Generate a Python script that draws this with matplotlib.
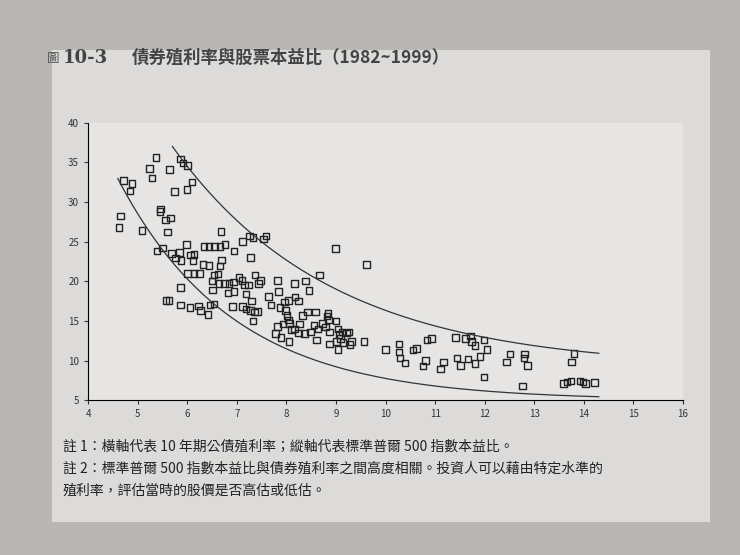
import matplotlib
matplotlib.use("Agg")
import matplotlib.pyplot as plt
import numpy as np
from matplotlib.patches import Rectangle

plt.rcParams['font.family'] = ['Noto Sans CJK TC', 'DejaVu Sans']

x_yield = [4.71,4.89,4.85,4.65,4.62,5.09,5.37,5.24,5.29,5.64,5.86,5.91,6.01,6.1,6.0,5.74,5.46,5.45,5.66,5.56,5.6,
 6.68,7.11,7.26,7.33,7.54,7.59,8.99,9.62,
 5.39,5.5,5.68,5.76,5.84,5.87,5.99,6.07,6.14,6.12,
 6.34,6.44,6.55,6.66,6.76,6.94,7.28,6.69,6.32,6.44,6.66,6.54,6.62,6.01,6.14,6.25,6.5,6.51,6.64,6.75,6.84,6.82,6.93,6.94,7.04,7.1,7.16,7.19,7.24,7.37,7.44,7.48,7.82,7.84,7.64,7.69,8.16,8.39,8.46,8.67,
 5.86,5.57,5.63,5.86,6.06,6.23,6.27,6.42,6.46,6.54,6.91,7.11,7.19,7.3,7.28,7.36,7.42,7.33,
 7.87,7.96,8.04,8.17,8.24,7.98,8.01,8.32,8.43,8.59,8.84,8.82,8.85,9.0,7.82,7.78,7.89,7.93,8.06,8.04,8.05,8.16,8.26,8.1,8.24,8.37,8.49,8.56,8.64,8.61,8.73,8.79,8.87,9.04,9.06,9.12,9.21,9.26,9.09,9.01,9.14,9.31,9.28,9.04,8.87,9.57,
 10.0,10.27,10.27,10.29,10.39,10.55,10.62,10.84,10.93,10.81,10.76,11.17,11.11,11.41,11.61,11.71,11.73,11.8,11.99,12.05,11.44,11.51,11.66,11.8,11.91,11.99,12.44,12.51,12.8,12.79,12.86,12.76,13.8,13.75,13.59,13.66,13.74,13.92,13.98,14.03,14.21]
y_pe = [32.7,32.3,31.4,28.2,26.8,26.4,35.6,34.2,33.0,34.1,35.4,34.9,34.6,32.5,31.6,31.3,29.1,28.8,28.0,27.7,26.2,
 26.3,25.0,25.7,25.5,25.3,25.7,24.1,22.1,
 23.8,24.2,23.5,22.9,23.6,22.6,24.6,23.3,23.4,22.6,
 24.4,24.4,24.4,24.4,24.6,23.8,23.0,22.7,22.1,22.0,21.9,20.8,20.9,21.0,21.0,21.0,20.0,18.9,19.7,19.7,19.7,18.5,19.9,18.7,20.5,20.1,19.5,18.4,19.5,20.8,19.7,20.1,20.1,18.7,18.1,17.0,19.7,20.0,18.8,20.8,
 19.2,17.6,17.6,17.0,16.7,16.9,16.3,15.8,17.0,17.1,16.8,16.8,16.5,17.5,16.3,16.1,16.2,15.0,
 16.7,17.4,17.6,18.0,17.5,16.3,15.7,15.7,16.1,16.1,16.0,15.6,15.1,15.0,14.3,13.4,12.9,14.6,14.7,15.1,12.4,14.0,14.6,13.9,13.5,13.4,13.6,14.5,14.0,12.6,14.7,14.2,13.6,14.0,13.3,13.6,13.5,13.6,12.8,12.4,12.3,12.4,12.0,11.4,12.1,12.4,
 11.4,12.1,11.1,10.3,9.7,11.3,11.5,12.6,12.8,10.0,9.3,9.8,8.9,12.9,12.8,13.1,12.4,11.9,12.6,11.4,10.3,9.4,10.2,9.6,10.5,7.9,9.8,10.8,10.8,10.3,9.4,6.8,10.9,9.8,7.1,7.3,7.4,7.4,7.3,7.1,7.2]

# band curves: y = c + B*exp(-k*x), drawn from x_start to x_end
lower_params = (5.0, 202.0, 0.43, 4.6, 14.3)
upper_params = (9.0, 165.8, 0.312, 5.7, 14.3)

fig = plt.figure(figsize=(7.4, 5.55), dpi=100)
fig.patch.set_facecolor('#b9b7b4')
fig.patches.append(Rectangle((0.07, 0.06), 0.89, 0.85, transform=fig.transFigure,
                             facecolor='#dcdbd9', edgecolor='none', zorder=-5))
ax = fig.add_axes([0.119, 0.279, 0.804, 0.5])
ax.set_zorder(3)
ax.set_facecolor('#e6e5e3')
for c, B, k, xa, xb in (lower_params, upper_params):
    xs = np.linspace(xa, xb, 200)
    ax.plot(xs, c + B * np.exp(-k * xs), color='#333333', lw=0.9)
ax.scatter(x_yield, y_pe, marker='s', s=22, facecolors='none', edgecolors='#222222', linewidths=1.0)
ax.set_xlim(4, 16)
ax.set_ylim(5, 40)
ax.set_xticks(range(4, 17))
ax.set_yticks(range(5, 41, 5))
for s in ('top', 'right'):
    ax.spines[s].set_visible(False)
ax.tick_params(labelsize=7, length=3, colors='#333333')

fig.text(0.063, 0.895, '圖', fontsize=9, color='#555555', va='center')
fig.text(0.085, 0.895, '10-3', fontsize=13, fontweight='bold', color='#444444', va='center', family=['DejaVu Serif'])
fig.text(0.178, 0.895, '債券殖利率與股票本益比（1982~1999）', fontsize=12.5, fontweight='bold', color='#444444', va='center')
notes = ['註 1：橫軸代表 10 年期公債殖利率；縱軸代表標準普爾 500 指數本益比。',
         '註 2：標準普爾 500 指數本益比與債券殖利率之間高度相關。投資人可以藉由特定水準的',
         '殖利率，評估當時的股價是否高估或低估。']
for i, t in enumerate(notes):
    fig.text(0.085, 0.195 - i * 0.04, t, fontsize=10, color='#222222', va='center')
fig.savefig('out.png', dpi=100)
